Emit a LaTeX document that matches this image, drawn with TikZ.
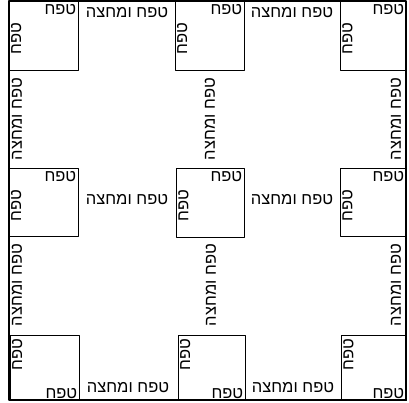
\documentclass[tikz,border=0pt]{standalone}
\usepackage{fontspec}
\newfontfamily\heb[Script=Hebrew]{Liberation Sans}
\TeXXeTstate=1
\usetikzlibrary{positioning}
\newcommand{\tf}{\beginR טפח\endR}
\newcommand{\tfm}{\beginR טפח ומחצה\endR}

\begin{document}
\begin{tikzpicture}[x=1pt, y=1pt, line join=round, line cap=round,
    post/.style 2 args={draw, line width=0.9pt, inner sep=0pt,
      minimum width=#1, minimum height=#2, anchor=north west},
    lbl/.style={font=\heb\fontsize{16.5}{16.5}\selectfont, inner sep=0.5pt},
    up/.style={lbl, rotate=90}]
  \useasboundingbox (0,0) rectangle (409,402);
  % outer frame
  \draw[line width=1.2pt] (9,2) rectangle (406,401);

  % Row 1: posts along the top
  \node[post={69pt}{69pt}] (tl) at (9,401) {};
  \node[post={69pt}{69pt}] (tm) at (175,401) {};
  \node[post={66pt}{69pt}] (tr) at (340,401) {};
  \node[lbl, anchor=north east] (tl-h) at ([shift={(-2,-2.5)}]tl.north east) {\tf};
  \node[up, anchor=north east] (tl-v) at ([shift={(1.5,-21)}]tl.north west) {\tf};
  \node[lbl, anchor=north east] (tm-h) at ([shift={(-2,-2.5)}]tm.north east) {\tf};
  \node[up, anchor=north east] (tm-v) at ([shift={(1.5,-21)}]tm.north west) {\tf};
  \node[lbl, anchor=north east] (tr-h) at ([shift={(-2,-2.5)}]tr.north east) {\tf};
  \node[up, anchor=north east] (tr-v) at ([shift={(1.5,-21)}]tr.north west) {\tf};

  % Row 2: posts in the middle
  \node[post={69pt}{68pt}] (ml) at (9,234) {};
  \node[post={68pt}{69pt}] (mc) at (176,234) {};
  \node[post={66pt}{68pt}] (mr) at (340,234) {};
  \node[lbl, anchor=north east] (ml-h) at ([shift={(-2,-2.5)}]ml.north east) {\tf};
  \node[up, anchor=north east] (ml-v) at ([shift={(1.5,-21)}]ml.north west) {\tf};
  \node[lbl, anchor=north east] (mc-h) at ([shift={(-2,-2.5)}]mc.north east) {\tf};
  \node[up, anchor=north east] (mc-v) at ([shift={(1.5,-21)}]mc.north west) {\tf};
  \node[lbl, anchor=north east] (mr-h) at ([shift={(-2,-2.5)}]mr.north east) {\tf};
  \node[up, anchor=north east] (mr-v) at ([shift={(1.5,-21)}]mr.north west) {\tf};

  % Row 3: posts along the bottom
  \node[post={69pt}{65pt}] (bl) at (10,67) {};
  \node[post={67pt}{65pt}] (bm) at (178,67) {};
  \node[post={65pt}{65pt}] (br) at (341,67) {};
  \node[lbl, anchor=south east] (bl-h) at ([shift={(-2,1.5)}]bl.south east) {\tf};
  \node[up, anchor=north east] (bl-v) at ([shift={(1.5,-3)}]bl.north west) {\tf};
  \node[lbl, anchor=south east] (bm-h) at ([shift={(-2,1.5)}]bm.south east) {\tf};
  \node[up, anchor=north east] (bm-v) at ([shift={(1.5,-3)}]bm.north west) {\tf};
  \node[lbl, anchor=south east] (br-h) at ([shift={(-2,1.5)}]br.south east) {\tf};
  \node[up, anchor=north east] (br-v) at ([shift={(1.5,-3)}]br.north west) {\tf};

  % gaps: a handbreadth and a half
  \node[lbl] (g-t1) at (127,389) {\tfm};
  \node[lbl] (g-t2) at (292,389) {\tfm};
  \node[lbl] (g-m1) at (127,202) {\tfm};
  \node[lbl] (g-m2) at (292,202) {\tfm};
  \node[lbl] (g-b1) at (128,14) {\tfm};
  \node[lbl] (g-b2) at (293,14) {\tfm};
  \node[up] (g-l1) at (17,283) {\tfm};
  \node[up] (g-l2) at (17,117) {\tfm};
  \node[up] (g-c1) at (210,283) {\tfm};
  \node[up] (g-c2) at (211,117) {\tfm};
  \node[up] (g-r1) at (396,283) {\tfm};
  \node[up] (g-r2) at (396,117) {\tfm};
\end{tikzpicture}
\end{document}
